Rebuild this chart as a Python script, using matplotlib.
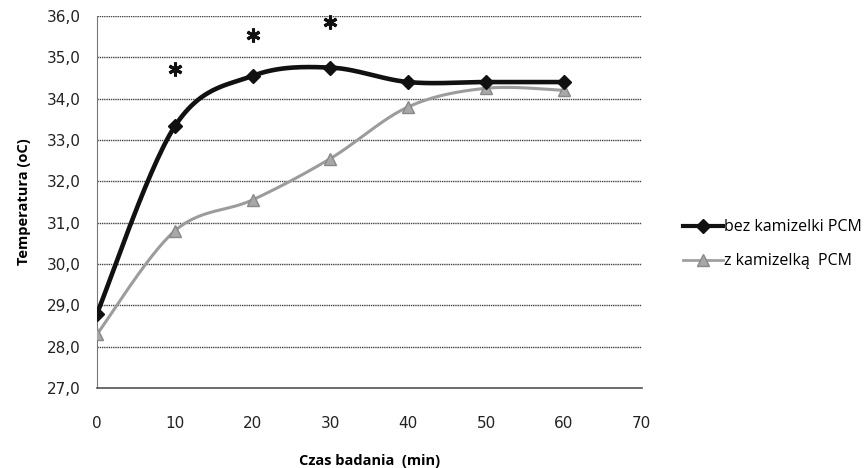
import numpy as np
import matplotlib
matplotlib.use("Agg")
import matplotlib.pyplot as plt
from matplotlib.lines import Line2D

plt.rcParams['font.family'] = ['Open Sans', 'DejaVu Sans']

czas = [0, 10, 20, 30, 40, 50, 60]
bez_kamizelki = [28.8, 33.33, 34.55, 34.75, 34.4, 34.4, 34.4]
z_kamizelka = [28.3, 30.8, 31.55, 32.55, 33.8, 34.25, 34.2]
gwiazdki_x = [10, 20, 30]
gwiazdki_y = [34.72, 35.55, 35.85]
y_ticks = [27, 28, 29, 30, 31, 32, 33, 34, 35, 36]
x_ticks = [0, 10, 20, 30, 40, 50, 60, 70]


def smooth(x, y, n=30):
    x = np.asarray(x, float)
    y = np.asarray(y, float)
    px = np.concatenate([[x[0]], x, [x[-1]]])
    py = np.concatenate([[y[0]], y, [y[-1]]])
    xs, ys = [], []
    for i in range(1, len(px) - 2):
        p0, p1, p2, p3 = [np.array([px[j], py[j]]) for j in (i - 1, i, i + 1, i + 2)]
        c1 = p1 + (p2 - p0) / 6
        c2 = p2 - (p3 - p1) / 6
        t = np.linspace(0, 1, n)[:, None]
        b = (1 - t) ** 3 * p1 + 3 * (1 - t) ** 2 * t * c1 + 3 * (1 - t) * t ** 2 * c2 + t ** 3 * p2
        xs.append(b[:, 0])
        ys.append(b[:, 1])
    return np.concatenate(xs), np.concatenate(ys)


fig = plt.figure(figsize=(8.66, 4.68), dpi=100)
ax = fig.add_axes([0.112, 0.171, 0.629, 0.795])

ax.set_xlim(0, 70)
ax.set_ylim(27, 36)
ax.set_yticks(y_ticks)
ax.set_yticklabels([f"{v:.1f}".replace('.', ',') for v in y_ticks],
                   family='DejaVu Sans')
ax.set_xticks(x_ticks)
ax.set_xticklabels([str(v) for v in x_ticks], family='DejaVu Sans')

ax.grid(axis='y', color='#444444', linestyle=(0, (1, 0.6)), linewidth=1.0)
ax.set_axisbelow(True)
for s in ['top', 'right']:
    ax.spines[s].set_visible(False)
ax.spines['left'].set_color('#777777')
ax.spines['left'].set_linestyle((0, (1, 1)))
ax.spines['bottom'].set_color('#555555')
ax.spines['bottom'].set_linewidth(1.2)
ax.tick_params(length=0, labelsize=11, colors='#222222')
ax.tick_params(axis='y', pad=12)
ax.tick_params(axis='x', pad=20)

gx, gy = smooth(czas, z_kamizelka)
ax.plot(gx, gy, color='#9c9c9c', linewidth=2.2, zorder=3)
ax.plot(czas, z_kamizelka, linestyle='none', marker='^', markersize=8,
        color='#a8a8a8', markeredgecolor='#888888', zorder=4)
bx, by = smooth(czas, bez_kamizelki)
ax.plot(bx, by, color='#111111', linewidth=3.3, zorder=5)
ax.plot(czas, bez_kamizelki, linestyle='none', marker='D', markersize=7,
        color='#111111', zorder=6)

ax.plot(gwiazdki_x, gwiazdki_y, linestyle='none', marker=(6, 2, 0),
        markersize=10, markeredgewidth=2.2, color='#111111', zorder=6,
        clip_on=False)

ax.set_ylabel('Temperatura (oC)', fontsize=10.5, fontweight='bold', labelpad=11)
ax.set_xlabel('Czas badania  (min)', fontsize=10.5, fontweight='bold', labelpad=17)

h1 = Line2D([], [], color='#111111', linewidth=3, marker='D', markersize=7)
h2 = Line2D([], [], color='#a0a0a0', linewidth=2, marker='^', markersize=8,
            markerfacecolor='#a8a8a8', markeredgecolor='#888888')
fig.legend([h1, h2], ['bez kamizelki PCM', 'z kamizelką  PCM'],
           loc='center left', bbox_to_anchor=(0.772, 0.478), frameon=False,
           fontsize=11.5, handlelength=2.5, handletextpad=0.1, labelspacing=1.15)

fig.savefig('out.png', dpi=100)
